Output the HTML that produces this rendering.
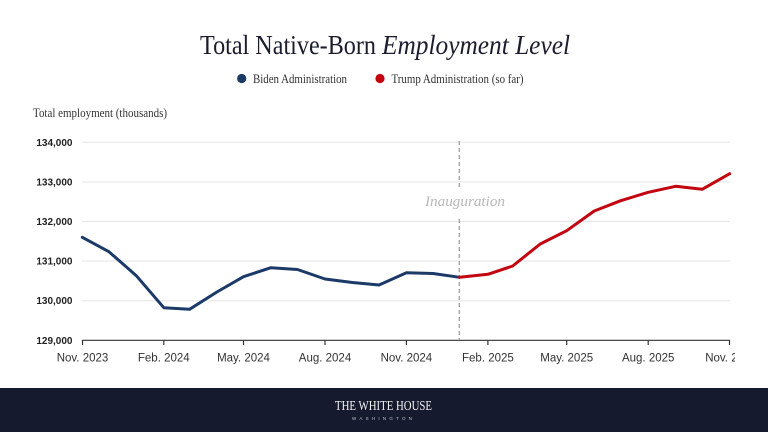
<!DOCTYPE html>
<html>
<head>
<meta charset="utf-8">
<style>
  html,body{margin:0;padding:0;background:#fff;}
  svg{display:block;}
</style>
</head>
<body>
<svg width="768" height="432" viewBox="0 0 768 432" xmlns="http://www.w3.org/2000/svg">
  <defs>
    <clipPath id="chartclip"><rect x="0" y="0" width="735" height="432"/></clipPath>
  </defs>
  <rect x="0" y="0" width="768" height="432" fill="#ffffff"/>

  <!-- Title -->
  <text x="200" y="54" font-family="Liberation Serif, serif" font-size="27" fill="#1b1d2e" textLength="176" lengthAdjust="spacingAndGlyphs">Total Native-Born</text>
  <text x="382" y="54" font-family="Liberation Serif, serif" font-style="italic" font-size="27" fill="#1b1d2e" textLength="188" lengthAdjust="spacingAndGlyphs">Employment Level</text>

  <!-- Legend -->
  <circle cx="241.7" cy="78.5" r="4.6" fill="#1b3a68"/>
  <text x="253" y="83" font-family="Liberation Serif, serif" font-size="12.5" fill="#333" textLength="94" lengthAdjust="spacingAndGlyphs">Biden Administration</text>
  <circle cx="380" cy="78.5" r="4.6" fill="#c2050f"/>
  <text x="391.5" y="83" font-family="Liberation Serif, serif" font-size="12.5" fill="#333" textLength="132" lengthAdjust="spacingAndGlyphs">Trump Administration (so far)</text>

  <!-- Axis title -->
  <text x="33" y="117" font-family="Liberation Serif, serif" font-size="12.5" fill="#333" textLength="134" lengthAdjust="spacingAndGlyphs">Total employment (thousands)</text>

  <!-- Gridlines -->
  <g stroke="#e6e6e6" stroke-width="1">
    <line x1="82" y1="142.3" x2="730" y2="142.3"/>
    <line x1="82" y1="182" x2="730" y2="182"/>
    <line x1="82" y1="221.5" x2="730" y2="221.5"/>
    <line x1="82" y1="261" x2="730" y2="261"/>
    <line x1="82" y1="300.7" x2="730" y2="300.7"/>
  </g>

  <!-- Y labels -->
  <g font-family="Liberation Sans, sans-serif" font-size="10" font-weight="bold" fill="#222" text-anchor="end">
    <text x="72.5" y="145.8">134,000</text>
    <text x="72.5" y="185.5">133,000</text>
    <text x="72.5" y="225">132,000</text>
    <text x="72.5" y="264.5">131,000</text>
    <text x="72.5" y="304.2">130,000</text>
    <text x="72.5" y="343.8">129,000</text>
  </g>

  <!-- X axis -->
  <line x1="82" y1="340.3" x2="730" y2="340.3" stroke="#333" stroke-width="1.2"/>
  <g stroke="#333" stroke-width="1.2">
    <line x1="82.5" y1="340" x2="82.5" y2="345"/>
    <line x1="163.8" y1="340" x2="163.8" y2="345"/>
    <line x1="243.5" y1="340" x2="243.5" y2="345"/>
    <line x1="325" y1="340" x2="325" y2="345"/>
    <line x1="406.4" y1="340" x2="406.4" y2="345"/>
    <line x1="487.9" y1="340" x2="487.9" y2="345"/>
    <line x1="566.7" y1="340" x2="566.7" y2="345"/>
    <line x1="648.2" y1="340" x2="648.2" y2="345"/>
    <line x1="729.5" y1="340" x2="729.5" y2="345"/>
  </g>
  <g font-family="Liberation Sans, sans-serif" font-size="11.5" fill="#333" text-anchor="middle" clip-path="url(#chartclip)">
    <text x="82.5" y="361.5">Nov. 2023</text>
    <text x="163.8" y="361.5">Feb. 2024</text>
    <text x="243.5" y="361.5">May. 2024</text>
    <text x="325" y="361.5">Aug. 2024</text>
    <text x="406.4" y="361.5">Nov. 2024</text>
    <text x="487.9" y="361.5">Feb. 2025</text>
    <text x="566.7" y="361.5">May. 2025</text>
    <text x="648.2" y="361.5">Aug. 2025</text>
    <text x="731" y="361.5">Nov. 2025</text>
  </g>

  <!-- Inauguration line -->
  <g stroke="#a8a8a8" stroke-width="1.4" stroke-dasharray="4,3">
    <line x1="459.3" y1="141" x2="459.3" y2="187"/>
    <line x1="459.3" y1="219" x2="459.3" y2="340"/>
  </g>
  <text x="425" y="206" font-family="Liberation Serif, serif" font-style="italic" font-size="15" fill="#b8b8b8" textLength="80" lengthAdjust="spacingAndGlyphs">Inauguration</text>

  <!-- Biden series -->
  <polyline fill="none" stroke="#1b3a68" stroke-width="3" stroke-linejoin="round" stroke-linecap="round"
    points="82.3,237.3 108.9,251.7 136.3,275.7 163.8,307.7 189.5,309.3 216.9,292 243.5,276.7 270.9,267.7 297.5,269.5 325,279 352.4,282.5 379,285 406.4,272.7 433,273.5 459.6,277.3"/>

  <!-- Trump series -->
  <polyline fill="none" stroke="#c2050f" stroke-width="3" stroke-linejoin="round" stroke-linecap="round"
    points="459.6,277.3 487.9,274.3 512.7,266 540.2,244 566.7,230.7 594.2,211 620.7,200.7 648.2,192.3 675.6,186.3 702.2,189.3 729.7,173.7"/>

  <!-- Footer -->
  <rect x="0" y="388" width="768" height="44" fill="#161a2e"/>
  <text x="335" y="410" font-family="Liberation Serif, serif" font-size="14" fill="#f2f2f2" textLength="97" lengthAdjust="spacingAndGlyphs">THE WHITE HOUSE</text>
  <text x="352" y="420" font-family="Liberation Sans, sans-serif" font-size="4.5" fill="#bfc2cc" textLength="60" lengthAdjust="spacing">WASHINGTON</text>
</svg>
</body>
</html>
